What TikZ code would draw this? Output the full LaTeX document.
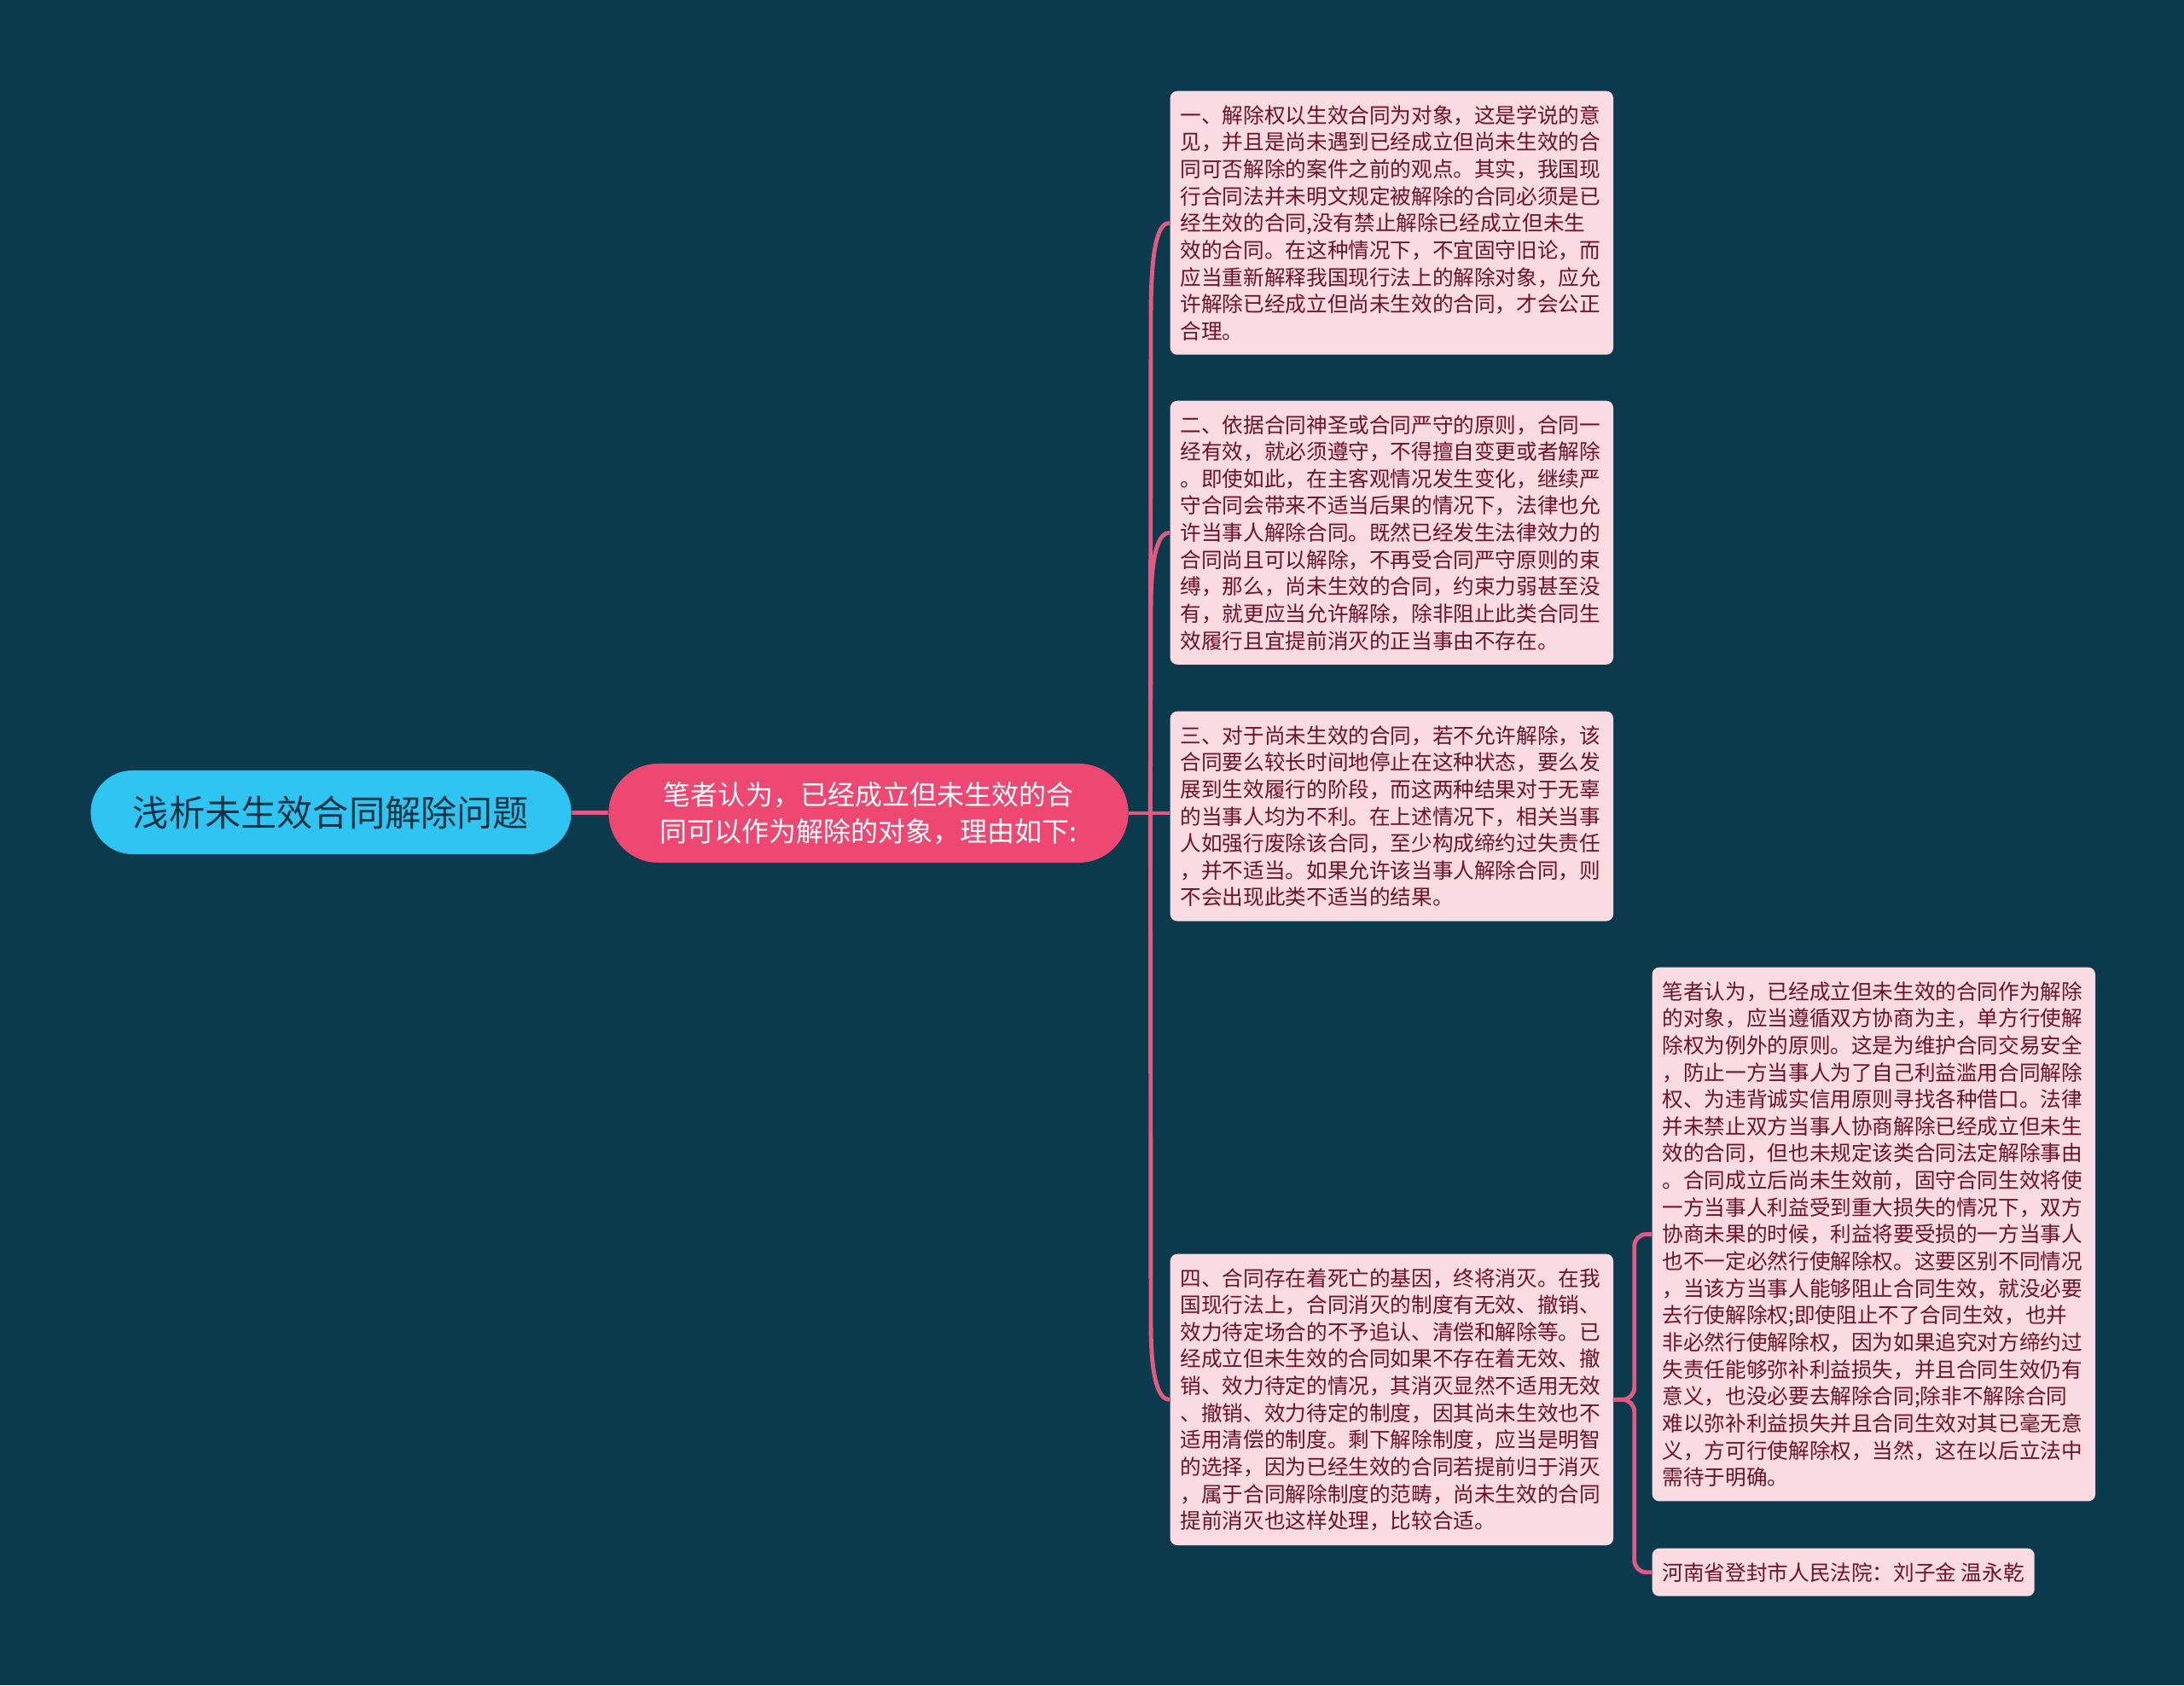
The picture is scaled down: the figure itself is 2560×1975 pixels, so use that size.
\documentclass[tikz,border=0pt]{standalone}
\usepackage{fontspec}
\setmainfont{Noto Sans CJK SC}
\usetikzlibrary{calc}
\definecolor{bgteal}{HTML}{0B3A4D}
\definecolor{rootcyan}{HTML}{2FC4F1}
\definecolor{roottext}{HTML}{0F3444}
\definecolor{hubpink}{HTML}{EE4772}
\definecolor{leafpink}{HTML}{FADBE2}
\definecolor{leafred}{HTML}{6D1228}
\definecolor{linkpink}{HTML}{E05A82}
\begin{document}
\begin{tikzpicture}[x=0.01cm,y=-0.01cm,
  link/.style={draw=linkpink,line width=1.4pt},
  leaf/.style={fill=leafpink,text=leafred,rounded corners=0.08cm,anchor=north west,
    text width=4.95cm,align=left,inner xsep=0.12cm,inner ysep=0.165cm,
    font=\fontsize{7pt}{9pt}\selectfont}]
\fill[bgteal] (0,0) rectangle (2560,1975);
\useasboundingbox (0,0) rectangle (2560,1975);
\node[fill=rootcyan,text=roottext,rounded corners=0.49cm,minimum width=5.63cm,minimum height=0.98cm,
  font=\fontsize{12pt}{14pt}\selectfont] (root) at (388,952) {浅析未生效合同解除问题};
\node[fill=hubpink,text=white,rounded corners=0.58cm,minimum width=6.09cm,minimum height=1.16cm,
  align=center,font=\fontsize{9.1pt}{12.1pt}\selectfont] (hub) at (1018,953)
  {笔者认为，已经成立但未生效的合\\同可以作为解除的对象，理由如下:};
\node[leaf] (first) at (1371,106) {一、解除权以生效合同为对象，这是学说的意\\
见，并且是尚未遇到已经成立但尚未生效的合\\
同可否解除的案件之前的观点。其实，我国现\\
行合同法并未明文规定被解除的合同必须是已\\
经生效的合同,没有禁止解除已经成立但未生\\
效的合同。在这种情况下，不宜固守旧论，而\\
应当重新解释我国现行法上的解除对象，应允\\
许解除已经成立但尚未生效的合同，才会公正\\
合理。};
\node[leaf] (second) at (1371,469) {二、依据合同神圣或合同严守的原则，合同一\\
经有效，就必须遵守，不得擅自变更或者解除\\
。即使如此，在主客观情况发生变化，继续严\\
守合同会带来不适当后果的情况下，法律也允\\
许当事人解除合同。既然已经发生法律效力的\\
合同尚且可以解除，不再受合同严守原则的束\\
缚，那么，尚未生效的合同，约束力弱甚至没\\
有，就更应当允许解除，除非阻止此类合同生\\
效履行且宜提前消灭的正当事由不存在。};
\node[leaf] (third) at (1371,833) {三、对于尚未生效的合同，若不允许解除，该\\
合同要么较长时间地停止在这种状态，要么发\\
展到生效履行的阶段，而这两种结果对于无辜\\
的当事人均为不利。在上述情况下，相关当事\\
人如强行废除该合同，至少构成缔约过失责任\\
，并不适当。如果允许该当事人解除合同，则\\
不会出现此类不适当的结果。};
\node[leaf] (fourth) at (1371,1469) {四、合同存在着死亡的基因，终将消灭。在我\\
国现行法上，合同消灭的制度有无效、撤销、\\
效力待定场合的不予追认、清偿和解除等。已\\
经成立但未生效的合同如果不存在着无效、撤\\
销、效力待定的情况，其消灭显然不适用无效\\
、撤销、效力待定的制度，因其尚未生效也不\\
适用清偿的制度。剩下解除制度，应当是明智\\
的选择，因为已经生效的合同若提前归于消灭\\
，属于合同解除制度的范畴，尚未生效的合同\\
提前消灭也这样处理，比较合适。};
\node[leaf] (opinion) at (1936,1133) {笔者认为，已经成立但未生效的合同作为解除\\
的对象，应当遵循双方协商为主，单方行使解\\
除权为例外的原则。这是为维护合同交易安全\\
，防止一方当事人为了自己利益滥用合同解除\\
权、为违背诚实信用原则寻找各种借口。法律\\
并未禁止双方当事人协商解除已经成立但未生\\
效的合同，但也未规定该类合同法定解除事由\\
。合同成立后尚未生效前，固守合同生效将使\\
一方当事人利益受到重大损失的情况下，双方\\
协商未果的时候，利益将要受损的一方当事人\\
也不一定必然行使解除权。这要区别不同情况\\
，当该方当事人能够阻止合同生效，就没必要\\
去行使解除权;即使阻止不了合同生效，也并\\
非必然行使解除权，因为如果追究对方缔约过\\
失责任能够弥补利益损失，并且合同生效仍有\\
意义，也没必要去解除合同;除非不解除合同\\
难以弥补利益损失并且合同生效对其已毫无意\\
义，方可行使解除权，当然，这在以后立法中\\
需待于明确。};
\node[leaf,text width=] (court) at (1936,1814) {河南省登封市人民法院：刘子金 温永乾};
\coordinate (fork) at ($(hub.east)+(25,0)$);
\draw[link] (root) -- (hub);
\draw[link] (hub.east) -- (hub.east -| third.west);
\draw[link] (fork) -- ($(first.west)+(-22,110)$) .. controls ($(first.west)+(-22,20)$) and ($(first.west)+(-12,0)$) .. (first.west);
\draw[link] (fork) -- ($(second.west)+(-22,90)$) .. controls ($(second.west)+(-22,20)$) and ($(second.west)+(-12,0)$) .. (second.west);
\draw[link] (fork) -- ($(fourth.west)+(-22,-90)$) .. controls ($(fourth.west)+(-22,-20)$) and ($(fourth.west)+(-12,0)$) .. (fourth.west);
\draw[link,rounded corners=0.14cm] (fourth.east) -- ++(24,0) |- (opinion.west);
\draw[link,rounded corners=0.14cm] (fourth.east) -- ++(24,0) |- (court.west);
\end{tikzpicture}
\end{document}
